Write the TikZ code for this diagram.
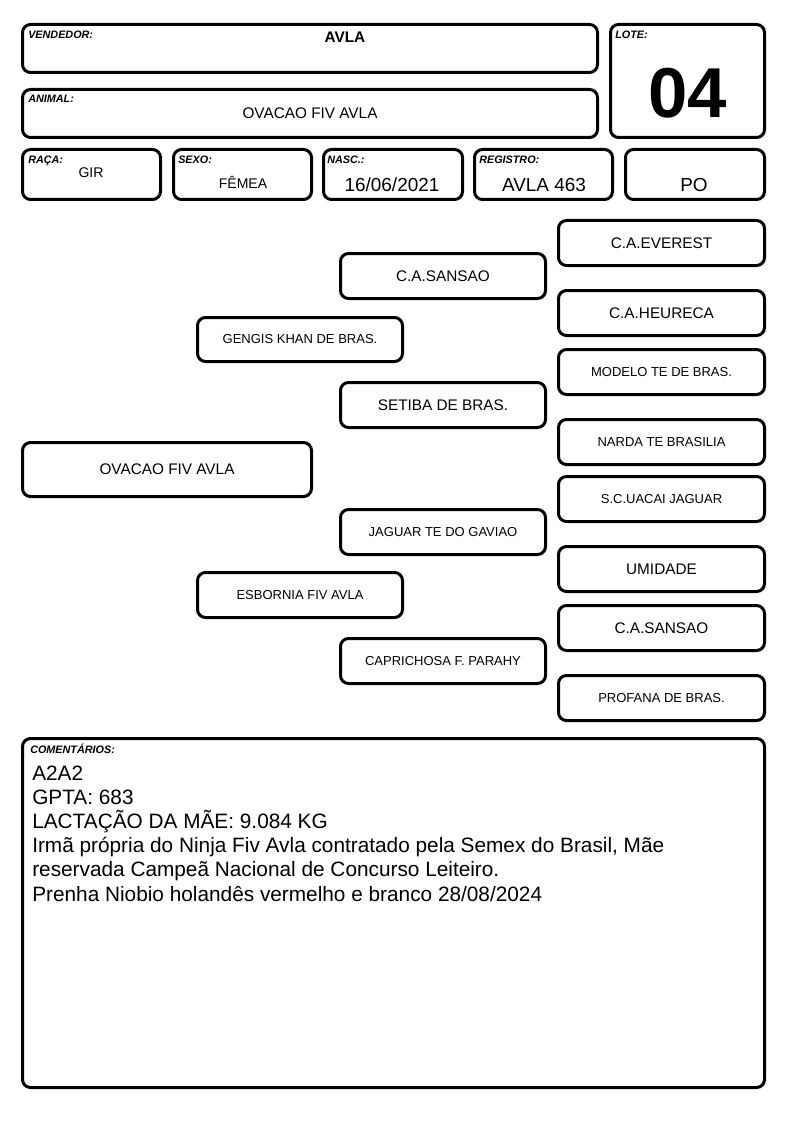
\documentclass[tikz,border=0pt]{standalone}
\usepackage{fontspec}
\setmainfont{Liberation Sans}
\newcommand{\pbox}[6]{\node[box, minimum width={(#4-#2-3)*0.75pt}, minimum height={(#5-#3-3)*0.75pt}] (#1) at ({(#2+#4)/2},{(#3+#5)/2}) {#6};}
\begin{document}
\begin{tikzpicture}[x=0.75pt,y=-0.75pt,
  box/.style={draw=black, line width=2.25pt, rounded corners=6pt, inner sep=0pt, align=center},
  lbl/.style={anchor=base west, inner sep=0pt, font=\fontsize{8.1}{9}\selectfont\bfseries\itshape},
  hval/.style={anchor=base, inner sep=0pt, font=\fontsize{10.5}{12}\selectfont},
  hbig/.style={anchor=base, inner sep=0pt, font=\fontsize{14.2}{16}\selectfont},
  cline/.style={anchor=base west, inner sep=0pt, font=\fontsize{15.6}{18}\selectfont}]
\fill[white] (0,0) rectangle (794,1123);
\useasboundingbox (0,0) rectangle (794,1123);
% header boxes
\pbox{vend}{21}{23}{599}{74}{}
\pbox{lote}{609}{23}{766}{139}{}
\pbox{anim}{21}{88}{599}{139}{}
\pbox{raca}{21}{148}{162}{201}{}
\pbox{sexo}{172}{148}{313}{201}{}
\pbox{nasc}{322}{148}{464}{201}{}
\pbox{reg}{473}{148}{614}{201}{}
\pbox{po}{624}{148}{766}{201}{}
% header labels
\node[lbl] (lvend) at (28,39) {VENDEDOR:};
\node[lbl] (llote) at (615,39) {LOTE:};
\node[lbl] (lanim) at (28,103) {ANIMAL:};
\node[lbl] (lraca) at (28,164) {RAÇA:};
\node[lbl] (lsexo) at (178,164) {SEXO:};
\node[lbl] (lnasc) at (327,164) {NASC.:};
\node[lbl] (lreg) at (479,164) {REGISTRO:};
% header values
\node[anchor=base, inner sep=0pt, font=\fontsize{11.5}{13}\selectfont\bfseries] (tvend) at (345,43) {AVLA};
\node[anchor=base, inner sep=0pt, font=\fontsize{53}{60}\selectfont\bfseries] (tlote) at (687.5,118) {04};
\node[anchor=base, inner sep=0pt, font=\fontsize{11.5}{13}\selectfont] (tanim) at (310,119) {OVACAO FIV AVLA};
\node[hval] (traca) at (91,178) {GIR};
\node[hval] (tsexo) at (243,189) {FÊMEA};
\node[hbig] (tnasc) at (392,192) {16/06/2021};
\node[hbig] (treg) at (544,192) {AVLA 463};
\node[hbig] (tpo) at (694,192) {PO};
% pedigree
\pbox{p0}{21}{441}{313}{498}{\fontsize{11.5}{13}\selectfont OVACAO FIV AVLA}
\pbox{ps}{196}{316}{404}{363}{\fontsize{9.75}{11}\selectfont GENGIS KHAN DE BRAS.}
\pbox{pd}{196}{571}{404}{619}{\fontsize{9.75}{11}\selectfont ESBORNIA FIV AVLA}
\pbox{pss}{339}{252}{547}{300}{\fontsize{11.5}{13}\selectfont C.A.SANSAO}
\pbox{psd}{339}{381}{547}{429}{\fontsize{11.5}{13}\selectfont SETIBA DE BRAS.}
\pbox{pds}{339}{508}{547}{556}{\fontsize{9.75}{11}\selectfont JAGUAR TE DO GAVIAO}
\pbox{pdd}{339}{637}{547}{685}{\fontsize{9.75}{11}\selectfont CAPRICHOSA F. PARAHY}
\pbox{psss}{557}{219}{766}{267}{\fontsize{11.5}{13}\selectfont C.A.EVEREST}
\pbox{pssd}{557}{289}{766}{337}{\fontsize{11.5}{13}\selectfont C.A.HEURECA}
\pbox{psds}{557}{348}{766}{396}{\fontsize{9.75}{11}\selectfont MODELO TE DE BRAS.}
\pbox{psdd}{557}{418}{766}{466}{\fontsize{9.75}{11}\selectfont NARDA TE BRASILIA}
\pbox{pdss}{557}{475}{766}{523}{\fontsize{9.75}{11}\selectfont S.C.UACAI JAGUAR}
\pbox{pdsd}{557}{545}{766}{593}{\fontsize{11.5}{13}\selectfont UMIDADE}
\pbox{pdds}{557}{604}{766}{652}{\fontsize{11.5}{13}\selectfont C.A.SANSAO}
\pbox{pddd}{557}{674}{766}{722}{\fontsize{9.75}{11}\selectfont PROFANA DE BRAS.}
% comments
\pbox{com}{21}{737}{766}{1089}{}
\node[lbl] (lcom) at (30,753) {COMENTÁRIOS:};
\node[cline] (c1) at (32,780) {A2A2};
\node[cline] (c2) at (32,804.2) {GPTA: 683};
\node[cline] (c3) at (32,828.4) {LACTAÇÃO DA MÃE: 9.084 KG};
\node[cline] (c4) at (32,852.6) {Irmã própria do Ninja Fiv Avla contratado pela Semex do Brasil, Mãe};
\node[cline] (c5) at (32,876.8) {reservada Campeã Nacional de Concurso Leiteiro.};
\node[cline] (c6) at (32,901) {Prenha Niobio holandês vermelho e branco 28/08/2024};
\end{tikzpicture}
\end{document}
